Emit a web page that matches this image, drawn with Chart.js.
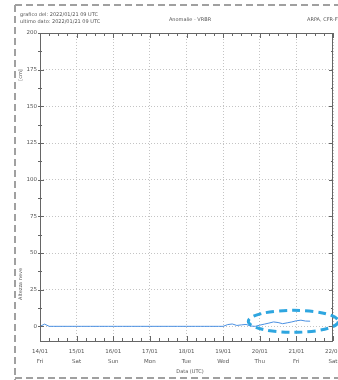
<!DOCTYPE html>
<html lang="it">
<head>
<meta charset="UTF-8">
<title>Altezza neve - VRBR</title>
<script src="https://cdn.jsdelivr.net/npm/chart.js"></script>
<style>
  html, body { margin: 0; padding: 0; background: #fff; }
  #box { width: 338px; height: 380px; }
</style>
</head>
<body>
<div id="box"><canvas id="neveChart"></canvas></div>
<script>
// ore dall'inizio del grafico (14/01 00 UTC), un dato ogni 3 ore
const hours = [
  0, 3, 6, 9, 12, 15, 18, 21,
  24, 27, 30, 33, 36, 39, 42, 45,
  48, 51, 54, 57, 60, 63, 66, 69,
  72, 75, 78, 81, 84, 87, 90, 93,
  96, 99, 102, 105, 108, 111, 114, 117,
  120, 123, 126, 129, 132, 135, 138, 141,
  144, 147, 150, 153, 156, 159, 162, 165,
  168, 171, 174, 177
];
// altezza neve [cm]
const snow = [
  0, 1.5, 0, 0, 0, 0, 0, 0,
  0, 0, 0, 0, 0, 0, 0, 0,
  0, 0, 0, 0, 0, 0, 0, 0,
  0, 0, 0, 0, 0, 0, 0, 0,
  0, 0, 0, 0, 0, 0, 0, 0,
  0, 1.2, 1.6, 0.6, 1.0, 1.3, 0.2, 0,
  0.8, 1.5, 2.2, 3.0, 2.6, 1.8, 2.4, 3.0,
  3.8, 4.2, 3.6, 3.5
];
const dayLabels = ['14/01', '15/01', '16/01', '17/01', '18/01', '19/01', '20/01', '21/01', '22/01'];
const dayNames = ['Fri', 'Sat', 'Sun', 'Mon', 'Tue', 'Wed', 'Thu', 'Fri', 'Sat'];
const yTicks = [0, 25, 50, 75, 100, 125, 150, 175, 200];

const FONT = "'DejaVu Sans', sans-serif";
const TXT = '#555';

// bordo tratteggiato della pagina, cornice, tacche minori, testi ed ellisse
const decorations = {
  id: 'decorations',
  beforeDraw(chart) {
    const ctx = chart.ctx;
    ctx.save();
    ctx.strokeStyle = '#a0a0a0';
    ctx.lineWidth = 2;
    ctx.setLineDash([7, 4]);
    ctx.beginPath();
    ctx.moveTo(15, 5); ctx.lineTo(338, 5);
    ctx.moveTo(15, 5); ctx.lineTo(15, 380);
    ctx.moveTo(15, 378); ctx.lineTo(338, 378);
    ctx.stroke();
    ctx.restore();
  },
  afterDatasetsDraw(chart) {
    const ctx = chart.ctx;
    const a = chart.chartArea;
    const x = chart.scales.x, y = chart.scales.y;
    ctx.save();
    // cornice
    ctx.strokeStyle = '#666';
    ctx.lineWidth = 1;
    ctx.strokeRect(a.left + 0.5, a.top + 0.5, a.right - a.left - 1, a.bottom - a.top);
    // tacche ogni 6 ore e ogni 12.5 cm
    ctx.beginPath();
    for (let h = 0; h <= 192; h += 6) {
      const px = Math.round(x.getPixelForValue(h)) + 0.5;
      const len = h % 24 === 0 ? 5 : 3;
      ctx.moveTo(px, a.bottom); ctx.lineTo(px, a.bottom - len);
      ctx.moveTo(px, a.top); ctx.lineTo(px, a.top + len);
    }
    for (let v = 0; v <= 200; v += 12.5) {
      const py = Math.round(y.getPixelForValue(v)) + 0.5;
      const len = v % 25 === 0 ? 4 : 2;
      ctx.moveTo(a.left - 2, py); ctx.lineTo(a.left + len, py);
      ctx.moveTo(a.right, py); ctx.lineTo(a.right - len, py);
    }
    ctx.stroke();
    // ellisse tratteggiata attorno all'ultimo tratto
    const cx = x.getPixelForValue(166), cy = y.getPixelForValue(3.4);
    const rx = x.getPixelForValue(166 + 29.5) - cx;
    const ry = y.getPixelForValue(0) - y.getPixelForValue(7.5);
    ctx.strokeStyle = '#2ea6e0';
    ctx.lineWidth = 3;
    ctx.setLineDash([8, 5]);
    ctx.beginPath();
    ctx.ellipse(cx, cy, rx, ry, 0, 0, Math.PI * 2);
    ctx.stroke();
    ctx.restore();
  },
  afterDraw(chart) {
    const ctx = chart.ctx;
    ctx.save();
    ctx.fillStyle = TXT;
    ctx.font = '5px ' + FONT;
    ctx.textBaseline = 'middle';
    ctx.textAlign = 'left';
    ctx.fillText('grafico del: 2022/01/21 09 UTC', 20, 15);
    ctx.fillText('ultimo dato: 2022/01/21 09 UTC', 20, 22);
    ctx.fillText('ARPA, CFR-FVG', 307, 20);
    ctx.textAlign = 'center';
    ctx.fillText('Anomalie - VRBR', 190, 20);
    ctx.fillText('Data (UTC)', 190, 372);
    // titolo asse y (ruotato)
    ctx.translate(21, 284);
    ctx.rotate(-Math.PI / 2);
    ctx.fillText('Altezza neve', 0, 0);
    ctx.restore();
    ctx.save();
    ctx.fillStyle = TXT;
    ctx.font = '5px ' + FONT;
    ctx.textAlign = 'center';
    ctx.textBaseline = 'middle';
    ctx.translate(21, 75);
    ctx.rotate(-Math.PI / 2);
    ctx.fillText('[cm]', 0, 0);
    ctx.restore();
  }
};

const ctx = document.getElementById('neveChart').getContext('2d');
const neveChart = new Chart(ctx, {
  type: 'line',
  data: {
    datasets: [{
      label: 'Altezza neve',
      data: hours.map((h, i) => ({ x: h, y: snow[i] })),
      borderColor: '#4a90e2',
      borderWidth: 1,
      pointRadius: 0,
      tension: 0
    }]
  },
  options: {
    responsive: true,
    maintainAspectRatio: false,
    animation: false,
    layout: { padding: { left: 0, top: 33, right: 5, bottom: 0 } },
    plugins: {
      legend: { display: false },
      tooltip: { enabled: false }
    },
    scales: {
      x: {
        type: 'linear',
        min: 0,
        max: 192,
        afterBuildTicks: (scale) => { scale.ticks = dayLabels.map((_, i) => ({ value: i * 24 })); },
        afterFit: (scale) => { scale.height = 39; scale.paddingLeft = 0; scale.paddingRight = 0; },
        ticks: {
          autoSkip: false,
          maxRotation: 0,
          padding: 6,
          color: TXT,
          font: { family: FONT, size: 5.5, lineHeight: 1.8 },
          callback: (v, i) => [dayLabels[i], dayNames[i]]
        },
        grid: { color: '#c4c4c4', lineWidth: 1, drawTicks: false },
        border: { display: false, dash: [1, 2] }
      },
      y: {
        min: -10,
        max: 200,
        afterBuildTicks: (scale) => { scale.ticks = yTicks.map(v => ({ value: v })); },
        afterFit: (scale) => { scale.width = 40; },
        ticks: {
          padding: 3,
          color: TXT,
          font: { family: FONT, size: 5.5 },
          callback: (v) => String(v)
        },
        grid: { color: '#c4c4c4', lineWidth: 1, drawTicks: false },
        border: { display: false, dash: [1, 2] }
      }
    }
  },
  plugins: [decorations]
});
</script>
</body>
</html>
